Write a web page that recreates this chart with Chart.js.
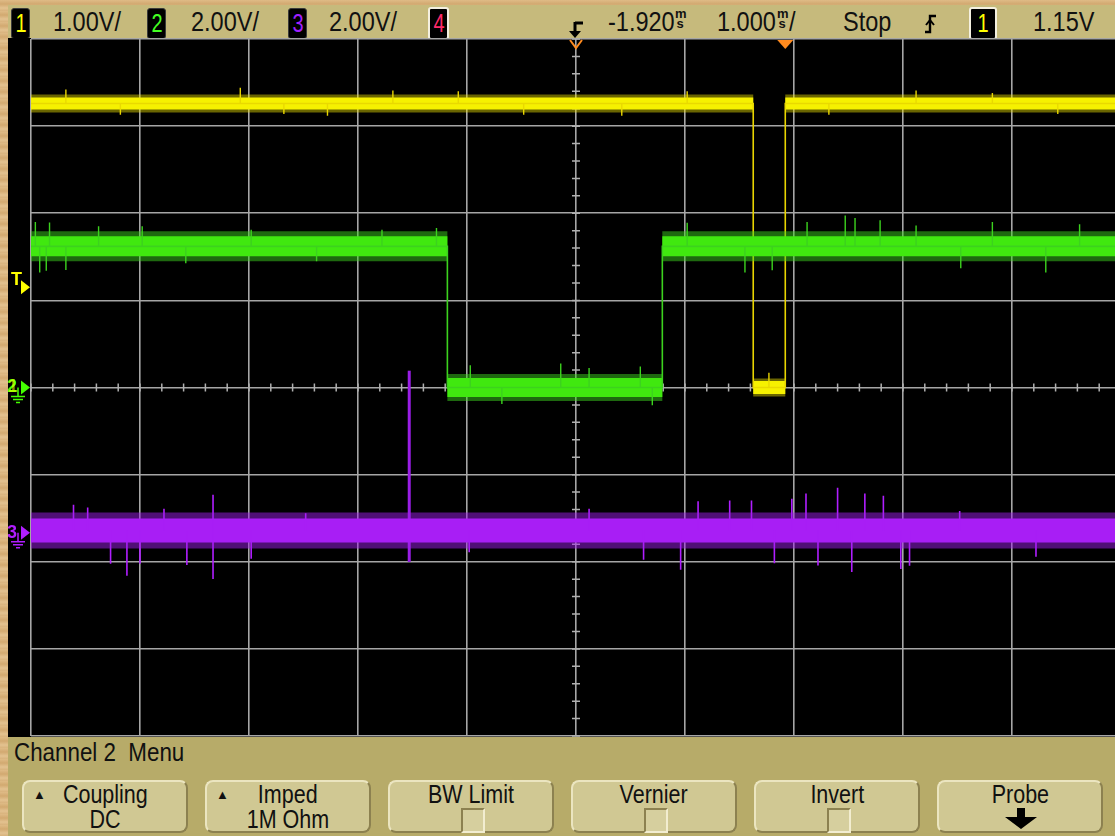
<!DOCTYPE html>
<html>
<head>
<meta charset="utf-8">
<title>Channel 2 Menu</title>
<script src="https://cdn.jsdelivr.net/npm/chart.js@4.4.1/dist/chart.umd.min.js"></script>
<style>
    body {
        margin: 0;
        width: 1115px;
        height: 836px;
        overflow: hidden;
        position: relative;
        background: repeating-linear-gradient(0deg, #d8b27c 0px, #e3c290 3px, #d2a970 7px, #dfbb86 11px);
        font-family: "Liberation Sans", sans-serif;
        color: #111;
    }
    #topbar {
        position: absolute; left: 8px; top: 5px; width: 1107px; height: 33px;
        background: #c6ba7c;
    }
    .txt {
        position: absolute; top: 2px; font-size: 28px; line-height: 30px; white-space: nowrap;
        transform: scaleX(0.84); transform-origin: 0 0;
    }
    .box {
        position: absolute; top: 3px; width: 17px; height: 29px; background: #000;
        border: 1px solid #3a3a3a; border-radius: 3px; text-align: center;
        font-size: 25px; line-height: 29px;
    }
    .box span { display: inline-block; transform: scaleX(0.8); }
    .units {
        position: absolute; top: 4px; font-size: 13px; line-height: 10px; width: 10px;
        text-align: center; font-weight: bold;
    }
    #scope { position: absolute; left: 8px; top: 38px; width: 1107px; height: 699px; background: #000; }
    #menu {
        position: absolute; left: 8px; top: 737px; width: 1107px; height: 99px;
        background: #b7ab69;
    }
    #menuTitle {
        position: absolute; left: 6px; top: 1px; font-size: 26px; line-height: 28px; white-space: nowrap;
        transform: scaleX(0.86); transform-origin: 0 0;
    }
    .btn {
        position: absolute; top: 43px; width: 166px; height: 53px;
        background: #d0c893; border-radius: 8px;
        border-top: 2px solid #ebe5c0; border-left: 2px solid #ebe5c0;
        border-right: 2px solid #8c8150; border-bottom: 2px solid #8c8150;
        box-sizing: border-box; text-align: center; font-size: 25px; line-height: 25px;
    }
    .btn .l1, .btn .l2 { position: absolute; left: 0; right: 0; }
    .btn .l1 { top: 0px; }
    .btn .l2 { top: 25px; }
    .btn .l1 span, .btn .l2 span { display: inline-block; transform: scaleX(0.86); }
    .btn .tri { position: absolute; left: 9px; top: 6px; font-size: 13px; line-height: 13px; }
    .chk {
        position: absolute; left: 71px; top: 26px; width: 20px; height: 21px;
        background: #d6cf9e; border-top: 2px solid #8c8150; border-left: 2px solid #8c8150;
        border-right: 2px solid #f2edd0; border-bottom: 2px solid #f2edd0;
    }
</style>
</head>
<body>

<div id="topbar">
    <div class="box" style="left:3px;color:#ffff00;"><span>1</span></div>
    <div class="txt" style="left:45px;">1.00V/</div>
    <div class="box" style="left:139px;color:#44ff22;"><span>2</span></div>
    <div class="txt" style="left:183px;">2.00V/</div>
    <div class="box" style="left:280px;color:#a020ff;"><span>3</span></div>
    <div class="txt" style="left:321px;">2.00V/</div>
    <div class="box" style="left:420px;color:#ff2a6a;border:2px solid #f4f0e0;top:2px;"><span>4</span></div>

    <svg style="position:absolute;left:560px;top:15px;" width="18" height="20" viewBox="0 0 18 20">
        <path d="M7 3 H15" stroke="#000" stroke-width="3" fill="none"/>
        <path d="M7 2 V12" stroke="#000" stroke-width="3" fill="none"/>
        <path d="M1 11 L13 11 L7 18 Z" fill="#000"/>
    </svg>
    <div class="txt" style="left:600px;">-1.920</div>
    <div class="units" style="left:667px;">m<br>s</div>
    <div class="txt" style="left:709px;">1.000</div>
    <div class="units" style="left:769px;">m<br>s</div>
    <div class="txt" style="left:781px;">/</div>
    <div class="txt" style="left:835px;">Stop</div>
    <svg style="position:absolute;left:915px;top:8px;" width="16" height="22" viewBox="0 0 16 22">
        <path d="M2 19 H7 V3 H13" stroke="#000" stroke-width="2.4" fill="none"/>
        <path d="M3 12 L7 7 L11 12" stroke="#000" stroke-width="2" fill="none"/>
    </svg>
    <div class="box" style="left:961px;width:24px;color:#ffff00;border:2px solid #f4f0e0;top:2px;"><span>1</span></div>
    <div class="txt" style="left:1025px;">1.15V</div>
</div>

<div id="scope"><canvas id="scopeChart" width="1107" height="699"></canvas></div>

<div id="menu">
    <div id="menuTitle">Channel 2&nbsp; Menu</div>
    <div class="btn" style="left:14px;"><span class="tri">&#9650;</span><div class="l1"><span>Coupling</span></div><div class="l2"><span>DC</span></div></div>
    <div class="btn" style="left:197px;"><span class="tri">&#9650;</span><div class="l1"><span>Imped</span></div><div class="l2"><span>1M Ohm</span></div></div>
    <div class="btn" style="left:380px;"><div class="l1"><span>BW Limit</span></div><div class="chk"></div></div>
    <div class="btn" style="left:563px;"><div class="l1"><span>Vernier</span></div><div class="chk"></div></div>
    <div class="btn" style="left:746px;"><div class="l1"><span>Invert</span></div><div class="chk"></div></div>
    <div class="btn" style="left:929px;"><div class="l1"><span>Probe</span></div>
        <svg style="position:absolute;left:62px;top:26px;" width="40" height="22" viewBox="0 0 40 22">
            <path d="M16 0 H24 V9 H36 L20 21 L4 9 H16 Z" fill="#000"/>
        </svg>
    </div>
</div>

<script>
// ===== Scope settings =====
const TIME_PER_DIV = 1.0;        // ms / div
const DELAY = -1.920;            // ms, time at screen centre
const TRIGGER_LEVEL = 1.15;      // V on channel 1
const VOLTS_PER_DIV = [1.0, 2.0, 2.0];
const GROUND_DIV = [0, 0, -1.667]; // ground marker of each channel, in divisions
const X_MIN_DIV = -5;
const X_MAX_DIV = 4.945;         // right edge of the screenshot (last graticule line is cut)

// ===== Channel 1 (yellow): level in V between edges (ms) =====
const ch1Edges = [-0.294, 0.0];
const ch1Levels = [3.26, 0.0, 3.26];
const ch1SpikeTimes = [-6.6, -6.1, -5.0, -4.6, -4.2, -3.6, -3.0, -2.4, -1.5, -0.9, -0.15, 0.4, 1.2, 1.9, 2.5];
const ch1SpikeVolts = [3.42, 3.13, 3.44, 3.14, 3.12, 3.41, 3.40, 3.13, 3.12, 3.40, 0.17, 3.13, 3.41, 3.38, 3.14];

// ===== Channel 2 (green) =====
const ch2Edges = [-3.10, -1.128];
const ch2Levels = [3.24, 0.0, 3.24];
const ch2SpikeTimes = [-6.88, -6.84, -6.78, -6.75, -6.6, -6.3, -5.9, -5.5, -4.9, -4.3, -3.7, -3.2,
    -2.89, -2.6, -2.06, -1.8, -1.33, -1.22, -0.9, -0.37, -0.12, 0.2, 0.55, 0.64, 0.87, 1.2, 1.61, 1.9, 2.39, 2.7];
const ch2SpikeVolts = [3.80, 2.64, 2.68, 3.79, 2.70, 3.70, 3.70, 2.85, 3.62, 2.90, 3.62, 3.66,
    0.51, -0.38, 0.55, 0.45, 0.48, -0.41, 3.78, 2.64, 2.69, 3.80, 3.95, 3.89, 3.84, 3.72, 2.74, 3.80, 2.64, 3.75];

// ===== Channel 3 (purple) =====
const ch3Edges = [];
const ch3Levels = [0.05];
const ch3SpikeTimes = [-6.53, -6.4, -6.19, -6.04, -5.92, -5.7, -5.49, -5.25, -5.25, -4.9, -4.4, -2.9,
    -1.8, -1.3, -0.96, -0.8, -0.51, -0.31, -0.1, 0.06, 0.19, 0.3, 0.48, 0.61, 0.73, 0.9, 1.06, 1.14, 1.6, 2.3];
const ch3SpikeVolts = [0.64, 0.58, -0.71, -0.99, -0.71, 0.55, -0.74, -1.06, 0.87, -0.60, 0.45, -0.45,
    0.55, -0.62, -0.85, 0.72, 0.74, 0.74, -0.70, 0.78, 0.90, -0.75, 1.03, -0.90, 0.90, 0.85, -0.83, -0.76, 0.50, -0.55];
const ch3GlitchTime = -3.45;
const ch3GlitchVolts = [-0.67, 3.72];

// ===== Styles =====
const GRID = '#a6a6a6';
const TICK = '#b0b0b0';
const COLORS = ['#ffff00', '#44ff00', '#b01eff'];
const EDGE_COLORS = ['#e8d400', '#3cd21e', '#9a1ee6'];
const HAZE_COLORS = ['rgba(235,225,0,0.45)', 'rgba(60,210,30,0.5)', 'rgba(160,30,235,0.5)'];
const BAND_WIDTHS = [[12, 13, 12], [20, 19, 20], [24]];
const HAZE_WIDTHS = [[18, 18, 18], [30, 27, 30], [36]];

const T_START = DELAY + X_MIN_DIV * TIME_PER_DIV;
const T_END = DELAY + X_MAX_DIV * TIME_PER_DIV;

function toX(t) { return (t - DELAY) / TIME_PER_DIV; }
function toY(v, ch) { return v / VOLTS_PER_DIV[ch] + GROUND_DIV[ch]; }

function levelAt(edges, levels, t) {
    let i = 0;
    while (i < edges.length && t >= edges[i]) i++;
    return levels[i];
}

// Thin trace incl. vertical edges
function tracePoints(edges, levels, ch) {
    const pts = [];
    let t0 = T_START;
    levels.forEach((v, i) => {
        const t1 = i < edges.length ? edges[i] : T_END;
        pts.push({ x: toX(t0), y: toY(v, ch) }, { x: toX(t1), y: toY(v, ch) });
        t0 = t1;
    });
    return pts;
}

// One flat band per level, broken at the edges
function bandDatasets(edges, levels, ch, widths, color) {
    const sets = [];
    let t0 = T_START;
    levels.forEach((v, i) => {
        const t1 = i < edges.length ? edges[i] : T_END;
        sets.push({
            type: 'line',
            data: [{ x: toX(t0), y: toY(v, ch) }, { x: toX(t1), y: toY(v, ch) }],
            borderColor: color,
            borderWidth: widths[ch][i],
            borderCapStyle: 'butt',
            pointRadius: 0
        });
        t0 = t1;
    });
    return sets;
}

function spikePoints(edges, levels, times, volts, ch) {
    const pts = [];
    times.forEach((t, i) => {
        const base = levelAt(edges, levels, t);
        pts.push({ x: toX(t), y: toY(base, ch) }, { x: toX(t), y: toY(volts[i], ch) }, { x: toX(t), y: null });
    });
    return pts;
}

function thinLine(data, color, width) {
    return { type: 'line', data, borderColor: color, borderWidth: width, pointRadius: 0, spanGaps: false };
}

const datasets = [
    ...bandDatasets(ch3Edges, ch3Levels, 2, HAZE_WIDTHS, HAZE_COLORS[2]),
    thinLine(spikePoints(ch3Edges, ch3Levels, ch3SpikeTimes, ch3SpikeVolts, 2), COLORS[2], 1.6),
    ...bandDatasets(ch3Edges, ch3Levels, 2, BAND_WIDTHS, COLORS[2]),
    thinLine([{ x: toX(ch3GlitchTime), y: toY(ch3GlitchVolts[0], 2) }, { x: toX(ch3GlitchTime), y: toY(ch3GlitchVolts[1], 2) }], EDGE_COLORS[2], 3),
    ...bandDatasets(ch2Edges, ch2Levels, 1, HAZE_WIDTHS, HAZE_COLORS[1]),
    thinLine(tracePoints(ch2Edges, ch2Levels, 1), EDGE_COLORS[1], 1.6),
    thinLine(spikePoints(ch2Edges, ch2Levels, ch2SpikeTimes, ch2SpikeVolts, 1), EDGE_COLORS[1], 1.4),
    ...bandDatasets(ch2Edges, ch2Levels, 1, BAND_WIDTHS, COLORS[1]),
    ...bandDatasets(ch1Edges, ch1Levels, 0, HAZE_WIDTHS, HAZE_COLORS[0]),
    thinLine(tracePoints(ch1Edges, ch1Levels, 0), EDGE_COLORS[0], 1.6),
    thinLine(spikePoints(ch1Edges, ch1Levels, ch1SpikeTimes, ch1SpikeVolts, 0), EDGE_COLORS[0], 1.4),
    ...bandDatasets(ch1Edges, ch1Levels, 0, BAND_WIDTHS, COLORS[0])
];

// Minor ticks on the centre lines + channel / trigger markers
const scopeMarks = {
    id: 'scopeMarks',
    beforeDatasetsDraw(chart) {
        const { ctx, scales: { x, y } } = chart;
        const cx = x.getPixelForValue(0);
        const cy = y.getPixelForValue(0);
        ctx.save();
        ctx.strokeStyle = TICK;
        ctx.lineWidth = 1.5;
        ctx.beginPath();
        for (let d = X_MIN_DIV; d <= X_MAX_DIV; d += 0.2) {
            const px = x.getPixelForValue(d);
            ctx.moveTo(px, cy - 4); ctx.lineTo(px, cy + 4);
        }
        for (let d = -4; d <= 4.001; d += 0.2) {
            const py = y.getPixelForValue(d);
            ctx.moveTo(cx - 4, py); ctx.lineTo(cx + 4, py);
        }
        ctx.stroke();
        ctx.restore();
    },
    afterDraw(chart) {
        const { ctx, chartArea, scales: { x, y } } = chart;
        const edgeX = chartArea.left;
        ctx.save();

        function arrow(py, color) {
            ctx.fillStyle = color;
            ctx.beginPath();
            ctx.moveTo(edgeX - 10, py - 7);
            ctx.lineTo(edgeX - 1, py);
            ctx.lineTo(edgeX - 10, py + 7);
            ctx.closePath();
            ctx.fill();
        }
        function ground(py, color) {
            ctx.strokeStyle = color;
            ctx.lineWidth = 1.5;
            ctx.beginPath();
            ctx.moveTo(edgeX - 13, py); ctx.lineTo(edgeX - 13, py + 9);
            ctx.moveTo(edgeX - 20, py + 9); ctx.lineTo(edgeX - 6, py + 9);
            ctx.moveTo(edgeX - 18, py + 12); ctx.lineTo(edgeX - 8, py + 12);
            ctx.moveTo(edgeX - 15, py + 15); ctx.lineTo(edgeX - 11, py + 15);
            ctx.stroke();
        }

        ctx.font = 'bold 18px "Liberation Sans", sans-serif';
        ctx.textBaseline = 'middle';

        // Trigger level
        const ty = y.getPixelForValue(toY(TRIGGER_LEVEL, 0));
        ctx.fillStyle = COLORS[0];
        ctx.fillText('T', edgeX - 20, ty - 7);
        arrow(ty, COLORS[0]);

        // Channel 2 / 1 ground
        const g2 = y.getPixelForValue(GROUND_DIV[1]);
        ctx.fillStyle = COLORS[1];
        ctx.fillText('2', edgeX - 24, g2);
        ctx.fillStyle = 'rgba(255,255,0,0.55)';
        ctx.fillText('1', edgeX - 23, g2);
        ground(g2, COLORS[1]);
        arrow(g2, COLORS[1]);

        // Channel 3 ground
        const g3 = y.getPixelForValue(GROUND_DIV[2]);
        ctx.fillStyle = COLORS[2];
        ctx.fillText('3', edgeX - 24, g3);
        ground(g3, COLORS[2]);
        arrow(g3, COLORS[2]);

        // Delay reference (centre) and trigger point markers on the top edge
        const top = chartArea.top;
        const mx = x.getPixelForValue(0);
        ctx.strokeStyle = '#ff8a1e';
        ctx.lineWidth = 2;
        ctx.beginPath();
        ctx.moveTo(mx - 6, top + 1); ctx.lineTo(mx, top + 9); ctx.lineTo(mx + 6, top + 1);
        ctx.stroke();
        const tx = x.getPixelForValue(toX(0));
        ctx.fillStyle = '#ff8a1e';
        ctx.beginPath();
        ctx.moveTo(tx - 8, top + 1); ctx.lineTo(tx + 8, top + 1); ctx.lineTo(tx, top + 10);
        ctx.closePath();
        ctx.fill();
        ctx.restore();
    }
};

new Chart(document.getElementById('scopeChart'), {
    type: 'line',
    data: { datasets },
    options: {
        responsive: false,
        animation: false,
        layout: { padding: { left: 23, top: 1, bottom: 1, right: 0 } },
        plugins: { legend: { display: false }, tooltip: { enabled: false } },
        scales: {
            x: {
                type: 'linear', min: X_MIN_DIV, max: X_MAX_DIV,
                ticks: { display: false, stepSize: 1 },
                border: { display: false },
                grid: {
                    drawTicks: false, lineWidth: 1.6,
                    color: (c) => Number.isInteger(Math.round(c.tick.value * 1000) / 1000) ? GRID : 'rgba(0,0,0,0)'
                },
                afterFit: (s) => { s.height = 0; }
            },
            y: {
                type: 'linear', min: -4, max: 4,
                ticks: { display: false, stepSize: 1 },
                border: { display: false },
                grid: { drawTicks: false, lineWidth: 1.6, color: GRID },
                afterFit: (s) => { s.width = 0; }
            }
        }
    },
    plugins: [scopeMarks]
});
</script>
</body>
</html>
